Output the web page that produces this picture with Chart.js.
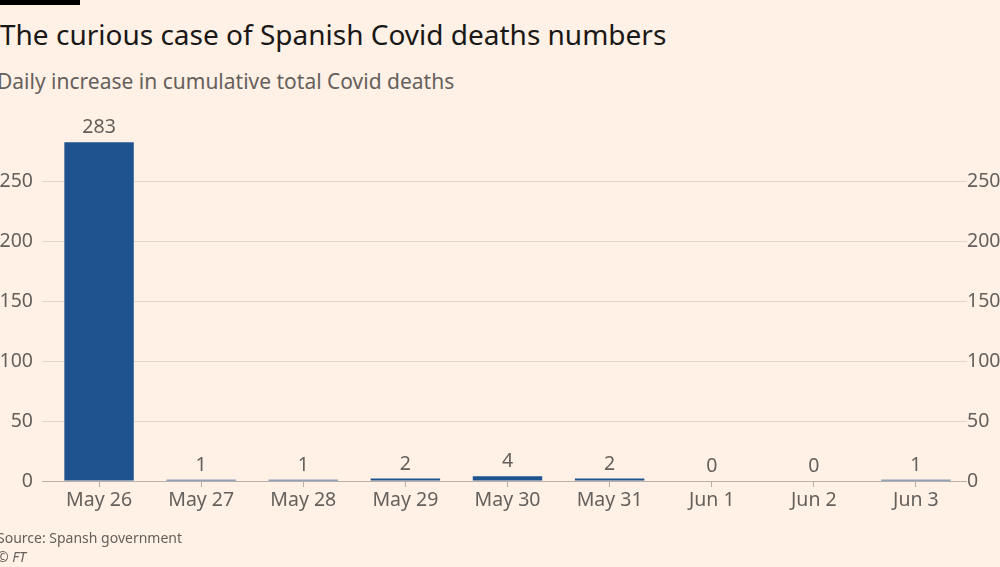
<!DOCTYPE html>
<html>
<head>
<meta charset="utf-8">
<script src="https://cdn.jsdelivr.net/npm/chart.js@4"></script>
<style>
  html, body { margin: 0; padding: 0; background: #fff1e5; overflow: hidden; }
  body { width: 1000px; height: 567px; position: relative; font-family: "Noto Sans", sans-serif; }
  .bar { position: absolute; left: 0; top: 0; width: 80px; height: 5px; background: #000; }
  .txt { position: absolute; white-space: nowrap; }
  #title { left: 0; top: 18px; font-size: 28px; line-height: 32px; color: #1a1817; }
  #subtitle { left: -3px; top: 69px; font-size: 21px; line-height: 25px; color: #66605c; }
  #source { left: -3px; top: 529px; font-size: 14px; line-height: 17px; color: #66605c; }
  #credit { left: -3px; top: 548px; font-size: 14px; line-height: 17px; color: #66605c; font-style: italic; }
  #wrap { position: absolute; left: -4px; top: 0; width: 1030px; height: 567px; }
</style>
</head>
<body>
<div class="bar"></div>
<div class="txt" id="title">The curious case of Spanish Covid deaths numbers</div>
<div class="txt" id="subtitle">Daily increase in cumulative total Covid deaths</div>
<div id="wrap"><canvas id="chart" width="1030" height="567"></canvas></div>
<div class="txt" id="source">Source: Spansh government</div>
<div class="txt" id="credit">© FT</div>

<script>
// Data
const days = ['May 26', 'May 27', 'May 28', 'May 29', 'May 30', 'May 31', 'Jun 1', 'Jun 2', 'Jun 3'];
const deaths = [283, 1, 1, 2, 4, 2, 0, 0, 1];
const yTicks = [0, 50, 100, 150, 200, 250];

const textColor = '#66605c';
const tickFont = { family: 'Noto Sans', size: 19.5 };

// Write the value above each bar
const valueLabels = {
    id: 'valueLabels',
    afterDatasetsDraw(chart) {
        const ctx = chart.ctx;
        const meta = chart.getDatasetMeta(0);
        ctx.save();
        ctx.fillStyle = textColor;
        ctx.font = '19.5px "Noto Sans"';
        ctx.textAlign = 'center';
        ctx.textBaseline = 'alphabetic';
        meta.data.forEach((bar, i) => {
            ctx.fillText(String(deaths[i]), bar.x, bar.y - 9);
        });
        ctx.restore();
    }
};

function keepTicks(scale) {
    scale.ticks = yTicks.map(v => ({ value: v }));
}

new Chart(document.getElementById('chart'), {
    type: 'bar',
    data: {
        labels: days,
        datasets: [{
            data: deaths,
            backgroundColor: '#1e5390',
            categoryPercentage: 1,
            barPercentage: 0.68
        }]
    },
    options: {
        responsive: false,
        animation: false,
        layout: { padding: { top: 122, bottom: 0, left: 0, right: 0 } },
        plugins: {
            legend: { display: false },
            tooltip: { enabled: false }
        },
        scales: {
            x: {
                afterFit(scale) { scale.height = 86; },
                border: { display: false },
                grid: {
                    drawOnChartArea: false,
                    drawTicks: true,
                    tickLength: 6,
                    offset: false,
                    color: '#b9afa7'
                },
                ticks: { color: textColor, font: tickFont, padding: 2, maxRotation: 0 }
            },
            y: {
                position: 'left',
                min: 0,
                max: 300,
                afterBuildTicks: keepTicks,
                afterFit(scale) { scale.width = 52; },
                border: { display: false },
                grid: {
                    drawTicks: true,
                    tickLength: 6,
                    color: ctx => ctx.tick && ctx.tick.value === 0 ? '#b9afa7' : '#e0d6cc'
                },
                ticks: { color: textColor, font: tickFont, padding: 9 }
            },
            y2: {
                position: 'right',
                min: 0,
                max: 300,
                afterBuildTicks: keepTicks,
                afterFit(scale) { scale.width = 59; },
                border: { display: false },
                grid: { display: false, drawTicks: false },
                ticks: { color: textColor, font: tickFont, padding: 0 }
            }
        }
    },
    plugins: [valueLabels]
});
</script>
</body>
</html>
